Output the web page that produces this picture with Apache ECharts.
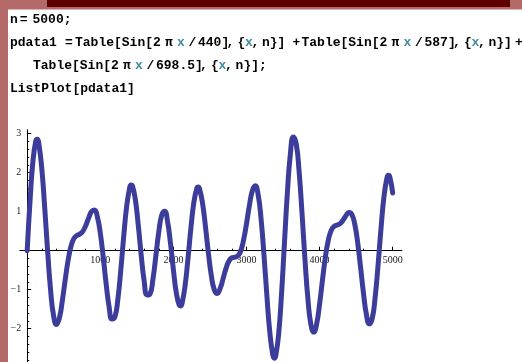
<!DOCTYPE html>
<html><head><meta charset="utf-8">
<script src="https://cdn.jsdelivr.net/npm/echarts@6/dist/echarts.min.js"></script>
<style>html,body{margin:0;padding:0;background:#fff;overflow:hidden}#c{width:522px;height:362px}</style>
</head><body><div id="c"></div>
<script>
// sample positions (x) and values read for pdata1
const sampleX = [0,40,80,120,140,160,200,240,280,320,360,400,440,480,520,560,600,640,680,720,760,800,840,880,920,960,1000,1040,1080,1120,1160,1200,1240,1280,1320,1360,1400,1420,1440,1480,1520,1560,1600,1640,1680,1720,1760,1800,1840,1880,1920,1960,2000,2040,2080,2100,2120,2160,2200,2240,2280,2320,2340,2360,2400,2440,2480,2520,2560,2600,2640,2680,2720,2760,2800,2840,2880,2920,2960,3000,3040,3080,3120,3160,3200,3240,3280,3320,3360,3380,3400,3440,3480,3520,3560,3600,3640,3680,3720,3760,3800,3840,3880,3920,3960,4000,4040,4080,4120,4160,4200,4240,4280,4320,4360,4400,4440,4480,4520,4560,4600,4640,4680,4720,4760,4800,4840,4880,4920,4940,4960,5000];
const sampleY = [0,1.308,2.324,2.831,2.859,2.737,2.098,1.092,-0.028,-1.010,-1.660,-1.890,-1.729,-1.293,-0.747,-0.243,0.120,0.317,0.392,0.426,0.496,0.641,0.835,1.004,1.043,0.868,0.448,-0.165,-0.849,-1.433,-1.752,-1.695,-1.248,-0.503,0.361,1.127,1.598,1.682,1.657,1.302,0.643,-0.123,-0.777,-1.135,-1.111,-0.732,-0.134,0.481,0.911,1.013,0.747,0.191,-0.488,-1.080,-1.398,-1.417,-1.336,-0.897,-0.192,0.589,1.240,1.596,1.633,1.575,1.202,0.594,-0.080,-0.653,-1.005,-1.096,-0.967,-0.715,-0.453,-0.266,-0.183,-0.167,-0.138,-0.010,0.272,0.692,1.162,1.539,1.666,1.429,0.802,-0.132,-1.185,-2.112,-2.672,-2.756,-2.694,-2.134,-1.087,0.224,1.507,2.474,2.913,2.742,2.024,0.949,-0.224,-1.233,-1.884,-2.087,-1.874,-1.368,-0.741,-0.156,0.277,0.526,0.626,0.657,0.694,0.780,0.898,0.979,0.934,0.688,0.220,-0.414,-1.086,-1.628,-1.877,-1.735,-1.196,-0.364,0.569,1.377,1.858,1.934,1.893,1.482];
const xTicks = [1000,2000,3000,4000,5000];
const yTicks = [-2,-1,1,2,3];

const TEAL = '#3f8c9f';
const codeSegments = [
  ['n',10,20,'#000'],['=',19.8,20,'#000'],['5000;',32.5,20,'#000'],
  ['pdata1',10,43,'#000'],['=',65,43,'#000'],['Table[Sin[2',75,43,'#000'],['π',165,43,'#000'],['x',177,43,TEAL],['/',188.5,43,'#000'],['440]',198,43,'#000'],[',',226.5,43,'#000'],['{',237.5,43,'#000'],['x',245,43,TEAL],[',',251.5,43,'#000'],['n}]',262,43,'#000'],['+',292.5,43,'#000'],
  ['Table[Sin[2',301.5,43,'#000'],['π',391.5,43,'#000'],['x',403.5,43,TEAL],['/',415,43,'#000'],['587]',424.5,43,'#000'],[',',453,43,'#000'],['{',464,43,'#000'],['x',471.5,43,TEAL],[',',478,43,'#000'],['n}]',488.5,43,'#000'],['+',515,43,'#000'],
  ['Table[Sin[2',33,66,'#000'],['π',123,66,'#000'],['x',135,66,TEAL],['/',146.5,66,'#000'],['698.5]',156,66,'#000'],[',',200.1,66,'#000'],['{',211.1,66,'#000'],['x',218.6,66,TEAL],[',',225.1,66,'#000'],['n}];',235.6,66,'#000'],
  ['ListPlot[pdata1]',10,88.3,'#000']
];

const fmt = v => (xTicks.indexOf(v) >= 0 || yTicks.indexOf(v) >= 0) ? String(v).replace('-', '\u2212') : '';

const chart = echarts.init(document.getElementById('c'), null, {renderer: 'canvas'});
const labelStyle = {fontSize: 10, color: '#222', fontFamily: 'Liberation Serif'};
const tickStyle = {show: true, inside: true, length: 4, lineStyle: {color: '#000'}};
const minorStyle = {show: true, splitNumber: 5, length: 2, lineStyle: {color: '#000'}};
const gridBase = {outerBoundsMode: 'none', containLabel: false};
chart.setOption({
  animation: false,
  backgroundColor: '#fff',
  grid: [
    Object.assign({left: 27.2, top: 133.7, width: 365.5, height: 117}, gridBase),
    Object.assign({left: 27.2, top: 250.7, width: 365.5, height: 117}, gridBase),
    Object.assign({left: 19.9, top: 129.8, width: 381.9, height: 237.9}, gridBase)
  ],
  xAxis: [
    {type: 'value', gridIndex: 0, position: 'bottom', min: 0, max: 5000, interval: 1000,
     axisLine: {show: false, onZero: false},
     axisTick: tickStyle, minorTick: minorStyle, splitLine: {show: false},
     axisLabel: Object.assign({margin: 5, formatter: fmt}, labelStyle)},
    {type: 'value', gridIndex: 1, show: false, min: 0, max: 5000},
    {type: 'value', gridIndex: 2, min: -100, max: 5125,
     axisLine: {show: true, onZero: true, lineStyle: {color: '#000', width: 1}},
     axisTick: {show: false}, axisLabel: {show: false}, splitLine: {show: false}}
  ],
  yAxis: [
    {type: 'value', gridIndex: 0, position: 'left', min: 0, max: 3, interval: 1,
     axisLine: {show: false, onZero: false},
     axisTick: tickStyle, minorTick: minorStyle, splitLine: {show: false},
     axisLabel: Object.assign({margin: 6, formatter: fmt}, labelStyle)},
    {type: 'value', gridIndex: 1, position: 'left', min: -3, max: 0, interval: 1,
     axisLine: {show: false, onZero: false},
     axisTick: tickStyle, minorTick: minorStyle, splitLine: {show: false},
     axisLabel: Object.assign({margin: 6, formatter: fmt}, labelStyle)},
    {type: 'value', gridIndex: 2, min: -3, max: 3.1,
     axisLine: {show: true, onZero: true, lineStyle: {color: '#000', width: 1}},
     axisTick: {show: false}, axisLabel: {show: false}, splitLine: {show: false}}
  ],
  series: [{
    type: 'line', xAxisIndex: 0, yAxisIndex: 0,
    data: sampleX.map((x, i) => [x, sampleY[i]]),
    showSymbol: false, smooth: 0.5, clip: false,
    lineStyle: {color: '#3c3c9b', width: 5, cap: 'round', join: 'round'}
  }],
  graphic: [
    {type: 'rect', shape: {x: 0, y: 0, width: 522, height: 9.5}, style: {fill: '#b56a6a'}},
    {type: 'rect', shape: {x: 47, y: 0, width: 463, height: 7}, style: {fill: '#5e0000'}},
    {type: 'rect', shape: {x: 0, y: 0, width: 8, height: 362}, style: {fill: '#b56a6a'}}
  ].concat(codeSegments.map(s => ({
    type: 'text', x: s[1], y: s[2],
    style: {text: s[0], fill: s[3], font: 'bold 13px "Liberation Mono"', verticalAlign: 'middle'}
  })))
});
</script>
</body></html>
